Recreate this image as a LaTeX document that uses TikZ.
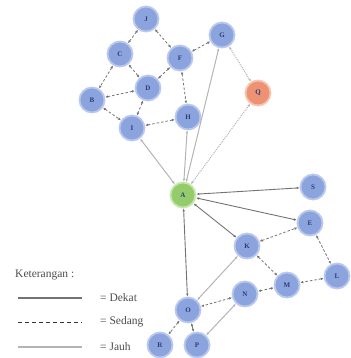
\documentclass[tikz,border=0pt]{standalone}
\usepackage{fontspec}
\setmainfont{Liberation Serif}
\usetikzlibrary{arrows.meta}
\definecolor{nodeblue}{RGB}{140,164,222}
\definecolor{nodehalo}{RGB}{186,200,238}
\definecolor{nodeorange}{RGB}{238,146,116}
\definecolor{orangehalo}{RGB}{248,196,178}
\definecolor{nodegreen}{RGB}{148,204,108}
\definecolor{greenhalo}{RGB}{198,230,172}
\definecolor{labelblue}{RGB}{45,60,120}
\definecolor{linedark}{RGB}{115,115,115}
\definecolor{linelight}{RGB}{180,180,180}
\tikzset{
  vtx/.style={circle, minimum size=25pt, inner sep=0pt, fill=nodeblue,
    draw=nodehalo, line width=1.8pt, text=labelblue,
    font=\fontsize{7}{7}\selectfont\bfseries},
  hub/.style={vtx, fill=nodegreen, draw=greenhalo},
  far/.style={vtx, fill=nodeorange, draw=orangehalo},
  tips/.style={{Latex[length=3pt,width=2.6pt]}-{Latex[length=3pt,width=2.6pt]}},
  dekat/.style={tips, draw=linedark, line width=0.9pt},
  sedang/.style={tips, draw=linedark, line width=0.8pt, dash pattern=on 2.5pt off 2pt},
  jauh/.style={tips, draw=linelight, line width=1pt},
  legtext/.style={font=\fontsize{11.5}{12}\selectfont, text=black!70, anchor=west, inner sep=0pt}
}
\begin{document}
\begin{tikzpicture}[x=1pt, y=-1pt]
\useasboundingbox (0,0) rectangle (350,358);

% vertices
\node[vtx] (J) at (146,19) {J};
\node[vtx] (C) at (120,54) {C};
\node[vtx] (F) at (180,58) {F};
\node[vtx] (G) at (222,35) {G};
\node[vtx] (D) at (148,88) {D};
\node[vtx] (B) at (92,100) {B};
\node[vtx] (I) at (132,128) {I};
\node[vtx] (H) at (188,117) {H};
\node[far] (Q) at (258,93) {Q};
\node[hub] (A) at (183,195) {A};
\node[vtx] (S) at (313,187) {S};
\node[vtx] (E) at (310,223) {E};
\node[vtx] (K) at (247,246) {K};
\node[vtx] (L) at (337,276) {L};
\node[vtx] (M) at (287,285) {M};
\node[vtx] (N) at (245,294) {N};
\node[vtx] (O) at (188,310) {O};
\node[vtx] (R) at (160,345) {R};
\node[vtx] (P) at (197,345) {P};

% medium-distance links
\draw[sedang] (J) -- (C);
\draw[sedang] (J) -- (F);
\draw[sedang] (C) -- (D);
\draw[sedang] (F) -- (D);
\draw[sedang] (F) -- (G);
\draw[sedang] (F) -- (H);
\draw[sedang] (C) -- (B);
\draw[sedang] (B) -- (D);
\draw[sedang] (B) -- (I);
\draw[sedang] (D) -- (I);
\draw[sedang] (I) -- (H);
\draw[sedang] (K) -- (E);
\draw[sedang] (E) -- (L);
\draw[sedang] (K) -- (M);
\draw[sedang] (L) -- (M);
\draw[sedang] (M) -- (N);
\draw[sedang] (N) -- (O);
\draw[sedang] (O) -- (R);

% close links
\draw[dekat] (A) -- (S);
\draw[dekat] (A) -- (E);
\draw[dekat] (A) -- (K);
\draw[dekat] (A) -- (O);
\draw[dekat] (O) -- (P);

% far links
\draw[jauh] (A) -- (I);
\draw[jauh] (A) -- (H);
\draw[jauh] (A) -- (G);
\draw[jauh, dash pattern=on 1pt off 1pt] (A) -- (Q);
\draw[jauh, dash pattern=on 1pt off 1pt] (G) -- (Q);
\draw[jauh] (K) -- (O);
\draw[jauh] (N) -- (P);

% legend
\node[legtext] (ket) at (15,275) {Keterangan :};
\coordinate (l1a) at (18,298);  \coordinate (l1b) at (82,298);
\coordinate (l2a) at (18,322);  \coordinate (l2b) at (82,322);
\coordinate (l3a) at (18,347);  \coordinate (l3b) at (82,347);
\draw[draw=linedark, line width=1.1pt] (l1a) -- (l1b);
\draw[draw=black!80, line width=1pt, dash pattern=on 3.5pt off 3.5pt] (l2a) -- (l2b);
\draw[draw=linelight, line width=1.1pt] (l3a) -- (l3b);
\node[legtext] (dk) at (100,298) {= Dekat};
\node[legtext] (sd) at (100,322) {= Sedang};
\node[legtext] (jh) at (100,347) {= Jauh};
\end{tikzpicture}
\end{document}
